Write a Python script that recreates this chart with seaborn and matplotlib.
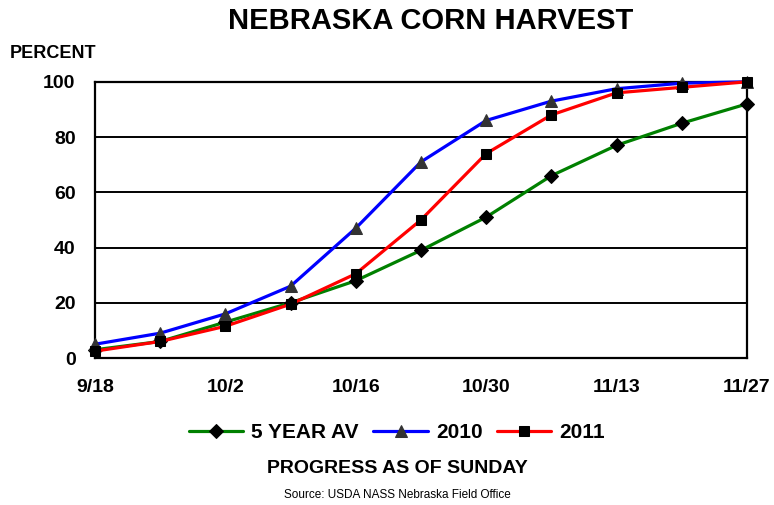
import numpy as np
import pandas as pd
import matplotlib
matplotlib.use("Agg")
import matplotlib.pyplot as plt
import seaborn as sns

# --- data (weekly, percent harvested) ---
weeks = ['9/18', '9/25', '10/2', '10/9', '10/16', '10/23', '10/30', '11/6', '11/13', '11/20', '11/27']
five_year = [3, 6, 13, 20, 28, 39, 51, 66, 77, 85, 92]
y2010 = [5, 9, 16, 26, 47, 71, 86, 93, 97.5, 99.5, 100]
y2011 = [2.5, 6, 11.5, 19.5, 30.5, 50, 74, 88, 96, 98, 100]
tick_labels = ['9/18', '10/2', '10/16', '10/30', '11/13', '11/27']

df = pd.DataFrame({'week': np.arange(len(weeks)), '5 YEAR AV': five_year,
                   '2010': y2010, '2011': y2011})

sns.set_style("white")
plt.rcParams['font.family'] = ['Liberation Sans', 'DejaVu Sans']
plt.rcParams['text.color'] = 'black'
plt.rcParams['xtick.color'] = 'black'
plt.rcParams['ytick.color'] = 'black'

fig = plt.figure(figsize=(7.74, 5.05), dpi=100)
ax = fig.add_axes([0.1227, 0.291, 0.8423, 0.547])

series = [('5 YEAR AV', 'green', 'D', 'black', 7.5),
          ('2010', 'blue', '^', '#333333', 9),
          ('2011', 'red', 's', 'black', 7.5)]
for name, col, mk, mcol, ms in series:
    sns.lineplot(data=df, x='week', y=name, ax=ax, color=col, linewidth=2.3,
                 marker=mk, markersize=ms, markerfacecolor=mcol, markeredgecolor=mcol,
                 label=name, clip_on=False, zorder=3)

ax.set_xlim(0, len(weeks) - 1)
ax.set_ylim(0, 100)
ax.set_xticks(np.arange(0, len(weeks), 2))
ax.set_xticklabels(tick_labels)
ax.set_yticks([0, 20, 40, 60, 80, 100])
ax.tick_params(axis='both', length=0, labelsize=14)
ax.tick_params(axis='x', pad=15)
ax.tick_params(axis='y', pad=14)
for lbl in ax.get_xticklabels() + ax.get_yticklabels():
    lbl.set_fontweight('bold')
ax.yaxis.grid(True, color='black', linewidth=1.4)
ax.set_axisbelow(True)
for s in ax.spines.values():
    s.set_color('black')
    s.set_linewidth(1.6)
ax.set_xlabel('')
ax.set_ylabel('')

handles, labels = ax.get_legend_handles_labels()
ax.legend_.remove()
fig.legend(handles, labels, loc='center', bbox_to_anchor=(0.513, 0.143), ncol=3,
           frameon=False, handlelength=2.6, columnspacing=0.7, handletextpad=0.4,
           prop={'weight': 'bold', 'size': 15})

fig.text(0.556, 0.958, 'NEBRASKA CORN HARVEST', ha='center', va='center',
         fontsize=21, fontweight='bold')
fig.text(0.013, 0.895, 'PERCENT', ha='left', va='center', fontsize=13, fontweight='bold')
fig.text(0.513, 0.073, 'PROGRESS AS OF SUNDAY', ha='center', va='center',
         fontsize=14, fontweight='bold')
fig.text(0.513, 0.019, 'Source: USDA NASS Nebraska Field Office', ha='center',
         va='center', fontsize=8.5)

fig.savefig('out.png', dpi=100)
